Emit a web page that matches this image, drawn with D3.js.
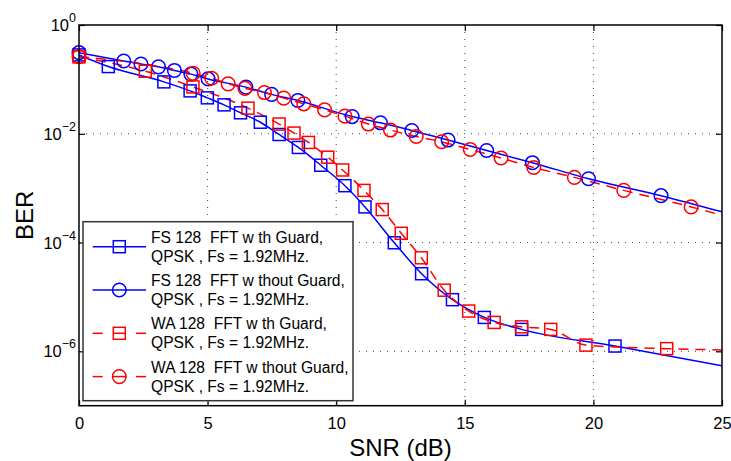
<!DOCTYPE html>
<html><head><meta charset="utf-8">
<script src="https://cdn.jsdelivr.net/npm/d3@7"></script>
<style>body{margin:0;background:#fff} text{font-family:"Liberation Sans",Arial,sans-serif;}</style>
</head><body><svg id="c" width="731" height="461"></svg>
<script>
// ---- data ----
const xTicks = [0, 5, 10, 15, 20, 25];
const yTickExps = [0, -2, -4, -6];
const legendLine1 = ["FS 128  FFT w th Guard,", "FS 128  FFT w thout Guard,", "WA 128  FFT w th Guard,", "WA 128  FFT w thout Guard,"];
const legendLine2 = "QPSK , Fs = 1.92MHz.";

// FS 128 FFT with guard (blue squares)
const fsGuardSnr = [0, 1.14, 3.30, 4.32, 4.99, 5.64, 6.28, 7.05, 7.78, 8.53, 9.40, 10.34, 11.12, 12.26, 13.32, 14.52, 15.76, 17.21, 20.84];
const fsGuardBer = [0.282, 0.172, 0.090, 0.0615, 0.0458, 0.034, 0.0243, 0.0163, 0.0097, 0.0056, 0.00264, 0.00111, 4.52e-4, 9.9e-5, 2.67e-5, 8.9e-6, 4.2e-6, 2.53e-6, 1.25e-6];
// FS 128 FFT without guard (blue circles)
const fsNoGuardSnr = [0, 1.74, 2.41, 3.09, 3.71, 4.35, 5.02, 6.49, 7.49, 8.51, 10.62, 11.72, 12.94, 14.35, 15.85, 17.63, 19.81, 22.63];
const fsNoGuardBer = [0.31, 0.218, 0.192, 0.170, 0.146, 0.125, 0.102, 0.072, 0.053, 0.041, 0.0207, 0.0159, 0.0115, 0.00766, 0.00492, 0.00294, 0.00149, 7.28e-4];
// WA 128 FFT with guard (red squares)
const waGuardSnr = [0, 2.58, 4.43, 6.57, 7.78, 8.36, 8.92, 9.67, 10.25, 11.08, 11.79, 12.53, 13.31, 14.20, 15.15, 16.14, 17.21, 18.34, 19.71, 22.85];
const waGuardBer = [0.259, 0.141, 0.0728, 0.0296, 0.0151, 0.0103, 0.00693, 0.00371, 0.00216, 9.1e-4, 4.04e-4, 1.48e-4, 5.24e-5, 1.33e-5, 5.5e-6, 3.4e-6, 2.82e-6, 2.53e-6, 1.3e-6, 1.12e-6];
// WA 128 FFT without guard (red circles)
const waNoGuardSnr = [0, 4.44, 5.16, 5.80, 6.45, 7.21, 7.96, 8.74, 9.55, 10.34, 11.25, 12.11, 13.11, 14.10, 15.21, 16.41, 17.68, 19.26, 21.18, 23.80];
const waNoGuardBer = [0.262, 0.129, 0.105, 0.0827, 0.0684, 0.0573, 0.0452, 0.0355, 0.0275, 0.0211, 0.0151, 0.0117, 0.00891, 0.00713, 0.00515, 0.00358, 0.0024, 0.00158, 9.1e-4, 4.52e-4];
// curve values at 25 dB (line continues past last marker)
const endSnr = 25;
const endBer = [5.4e-7, 3.66e-4, 1.06e-6, 3.17e-4];

// ---- layout ----
const L = 79, R = 722, T = 25, B = 405.7;
const svg = d3.select("#c");
const x = d3.scaleLinear().domain([0, 25]).range([L, R]);
const y = d3.scaleLog().domain([1e-7, 1]).range([B, T]);

// grid
const grid = svg.append("g").attr("stroke", "#444").attr("stroke-width", 1).attr("stroke-dasharray", "1,6");
xTicks.filter(v => v > 0 && v < 25).forEach(v => {
  grid.append("line").attr("x1", x(v)).attr("x2", x(v)).attr("y1", T).attr("y2", B);
});
yTickExps.filter(e => e < 0).forEach(e => {
  grid.append("line").attr("x1", L).attr("x2", R).attr("y1", y(Math.pow(10, e))).attr("y2", y(Math.pow(10, e)));
});

// axes
const yVals = yTickExps.map(e => Math.pow(10, e));
const axB = d3.axisBottom(x).tickValues(xTicks).tickSizeInner(-6).tickSizeOuter(0).tickPadding(12).tickFormat(d3.format("d"));
const axT = d3.axisTop(x).tickValues(xTicks).tickSizeInner(-6).tickSizeOuter(0).tickFormat("");
const axLf = d3.axisLeft(y).tickValues(yVals).tickSizeInner(-6).tickSizeOuter(0).tickPadding(4).tickFormat("");
const axRt = d3.axisRight(y).tickValues(yVals).tickSizeInner(-6).tickSizeOuter(0).tickFormat("");
function styleAx(g) { g.select(".domain").remove(); g.selectAll("line").attr("stroke", "#000").attr("stroke-width", 1.2); }
const gB = svg.append("g").attr("transform", `translate(0,${B})`).call(axB).call(styleAx);
gB.selectAll("text").attr("font-size", 16.5).attr("fill", "#000").attr("font-family", "Liberation Sans, Arial, sans-serif");
svg.append("g").attr("transform", `translate(0,${T})`).call(axT).call(styleAx);
svg.append("g").attr("transform", `translate(${L},0)`).call(axLf).call(styleAx);
svg.append("g").attr("transform", `translate(${R},0)`).call(axRt).call(styleAx);

// y tick labels with superscripts
yTickExps.forEach(e => {
  const t = svg.append("text").attr("x", L - 3).attr("y", y(Math.pow(10, e)) + 6)
    .attr("text-anchor", "end").attr("font-size", 16.5).attr("fill", "#000");
  t.append("tspan").text("10");
  t.append("tspan").attr("dy", -9).attr("font-size", 12.5).text(e === 0 ? "0" : "\u2212" + Math.abs(e));
});

// clip
svg.append("clipPath").attr("id", "clip").append("rect").attr("x", L).attr("y", T).attr("width", R - L).attr("height", B - T);

const series = [
  { snr: fsGuardSnr, ber: fsGuardBer, color: "#0000ff", dash: null, marker: "square" },
  { snr: fsNoGuardSnr, ber: fsNoGuardBer, color: "#0000ff", dash: null, marker: "circle" },
  { snr: waGuardSnr, ber: waGuardBer, color: "#ff0000", dash: "10,7", marker: "square" },
  { snr: waNoGuardSnr, ber: waNoGuardBer, color: "#ff0000", dash: "10,7", marker: "circle" }
];
const line = d3.line().x(d => x(d[0])).y(d => y(d[1])).curve(d3.curveMonotoneX);
const plot = svg.append("g").attr("clip-path", "url(#clip)");

function drawMarker(g, type, cx, cy, color) {
  if (type === "square") {
    g.append("rect").attr("x", cx - 6).attr("y", cy - 6).attr("width", 12).attr("height", 12)
      .attr("fill", "none").attr("stroke", color).attr("stroke-width", 1.5);
  } else {
    g.append("circle").attr("cx", cx).attr("cy", cy).attr("r", 6.8)
      .attr("fill", "none").attr("stroke", color).attr("stroke-width", 1.5);
  }
}

series.forEach((s, i) => {
  const pts = s.snr.map((v, k) => [v, s.ber[k]]);
  pts.push([endSnr, endBer[i]]);
  plot.append("path").attr("d", line(pts)).attr("fill", "none").attr("stroke", s.color)
    .attr("stroke-width", 1.5).attr("stroke-dasharray", s.dash);
  const mg = svg.append("g");
  s.snr.forEach((v, k) => drawMarker(mg, s.marker, x(v), y(s.ber[k]), s.color));
});

// frame
svg.append("rect").attr("x", L).attr("y", T).attr("width", R - L).attr("height", B - T)
  .attr("fill", "none").attr("stroke", "#000").attr("stroke-width", 1.5);

// axis labels
svg.append("text").attr("x", (L + R) / 2).attr("y", 456).attr("text-anchor", "middle")
  .attr("font-size", 24).attr("fill", "#000").text("SNR (dB)");
svg.append("text").attr("transform", `translate(33,${(T + B) / 2}) rotate(-90)`).attr("text-anchor", "middle")
  .attr("font-size", 24).attr("fill", "#000").text("BER");

// legend
const lg = svg.append("g");
lg.append("rect").attr("x", 83).attr("y", 221.7).attr("width", 270).attr("height", 179)
  .attr("fill", "#fff").attr("stroke", "#333").attr("stroke-width", 1.5);
series.forEach((s, i) => {
  const cy = 246.7 + i * 43.3;
  if (s.dash) {
    lg.append("line").attr("x1", 92.7).attr("x2", 102.7).attr("y1", cy).attr("y2", cy).attr("stroke", s.color).attr("stroke-width", 1.5);
    lg.append("line").attr("x1", 136).attr("x2", 146).attr("y1", cy).attr("y2", cy).attr("stroke", s.color).attr("stroke-width", 1.5);
    lg.append("line").attr("x1", 113).attr("x2", 126).attr("y1", cy).attr("y2", cy).attr("stroke", s.color).attr("stroke-width", 1.5);
  } else {
    lg.append("line").attr("x1", 92.7).attr("x2", 146).attr("y1", cy).attr("y2", cy).attr("stroke", s.color).attr("stroke-width", 1.5);
  }
  drawMarker(lg, s.marker, 119.3, cy, s.color);
  lg.append("text").attr("x", 151).attr("y", cy - 4).attr("font-size", 15.6).attr("fill", "#000")
    .style("white-space", "pre").text(legendLine1[i]);
  lg.append("text").attr("x", 151).attr("y", cy + 15).attr("font-size", 15.6).attr("fill", "#000")
    .style("white-space", "pre").text(legendLine2);
});
</script>
</body></html>
